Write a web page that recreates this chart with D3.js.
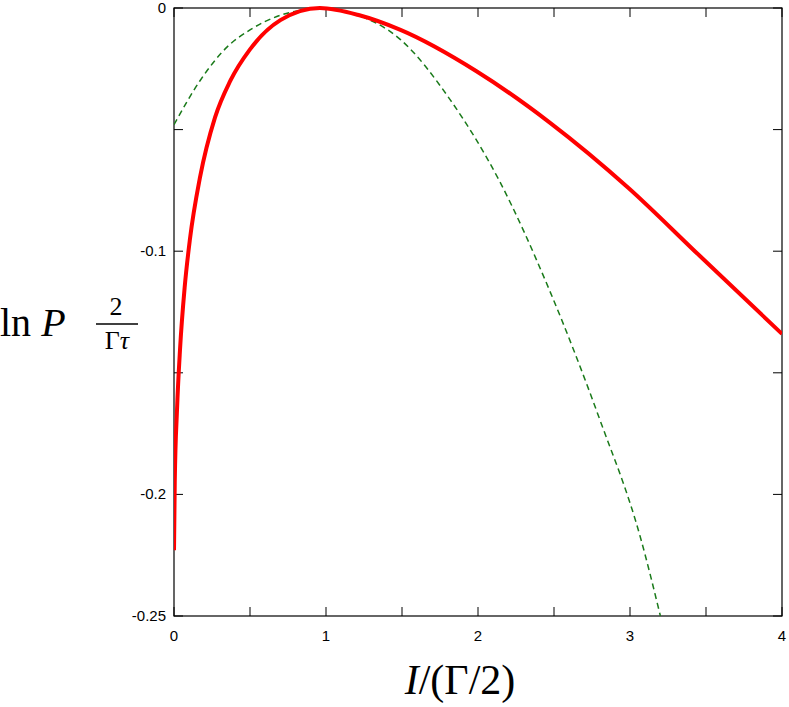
<!DOCTYPE html><html><head><script src="https://cdn.jsdelivr.net/npm/d3@7"></script>
<style>body{margin:0;background:#fff}</style></head><body><svg id="c" width="789" height="707"></svg>
<script>
const xTicks=[0,1,2,3,4];
const yTicks=[0,-0.1,-0.2,-0.25];
const yTickLabels=["0","-0.1","-0.2","-0.25"];
const redI=[0,0.005,0.02,0.04,0.07,0.105,0.17,0.27,0.37,0.5,0.7,0.96,1.22,1.49,1.99,2.47,2.99,3.46,4];
const redV=[-0.223,-0.195,-0.165,-0.14,-0.115,-0.095,-0.07,-0.045,-0.03,-0.017,-0.005,0,-0.003,-0.009,-0.026,-0.047,-0.074,-0.102,-0.134];
const greenI=[0,0.17,0.35,0.5,0.7,0.83,0.96,1.16,1.49,1.82,2.14,2.47,2.8,3.07,3.2];
const greenV=[-0.048,-0.03,-0.016,-0.009,-0.003,-0.001,0,-0.002,-0.013,-0.038,-0.071,-0.116,-0.169,-0.218,-0.25];
const svg=d3.select("#c");
const L=174,R=782,T=8,B=616;
const x=d3.scaleLinear().domain([0,4]).range([L,R]);
const y=d3.scaleLinear().domain([-0.25,0]).range([B,T]);
const g=svg.append("g");
g.append("rect").attr("x",L).attr("y",T).attr("width",R-L).attr("height",B-T).attr("fill","none").attr("stroke","#000").attr("stroke-width",1.2);
const minorX=d3.range(0,4.01,0.5), minorY=[0,-0.05,-0.1,-0.15,-0.2,-0.25];
minorX.forEach(v=>{g.append("line").attr("x1",x(v)).attr("x2",x(v)).attr("y1",B).attr("y2",B-9).attr("stroke","#000");
 g.append("line").attr("x1",x(v)).attr("x2",x(v)).attr("y1",T).attr("y2",T+9).attr("stroke","#000");});
minorY.forEach(v=>{g.append("line").attr("x1",L).attr("x2",L+9).attr("y1",y(v)).attr("y2",y(v)).attr("stroke","#000");
 g.append("line").attr("x1",R).attr("x2",R-9).attr("y1",y(v)).attr("y2",y(v)).attr("stroke","#000");});
xTicks.forEach(v=>g.append("text").attr("x",x(v)).attr("y",B+25).attr("text-anchor","middle").attr("font-family","Liberation Sans, Arial").attr("font-size",15).text(v));
yTicks.forEach((v,i)=>g.append("text").attr("x",L-8).attr("y",y(v)+5).attr("text-anchor","end").attr("font-family","Liberation Sans, Arial").attr("font-size",15).text(yTickLabels[i]));
svg.append("clipPath").attr("id","cp").append("rect").attr("x",L).attr("y",T-5).attr("width",R-L).attr("height",B-T+5);
const line=d3.line().x(d=>x(d[0])).y(d=>y(d[1])).curve(d3.curveMonotoneX);
svg.append("path").attr("d",line(greenI.map((v,i)=>[v,greenV[i]]))).attr("fill","none").attr("stroke","#1a7a1a").attr("stroke-width",1.5).attr("stroke-dasharray","6,4").attr("clip-path","url(#cp)");
svg.append("path").attr("d",line(redI.map((v,i)=>[v,redV[i]]))).attr("fill","none").attr("stroke","#ff0000").attr("stroke-width",4).attr("clip-path","url(#cp)");
const sf="Liberation Serif, DejaVu Serif, serif";
const xl=svg.append("text").attr("x",460).attr("y",694).attr("text-anchor","middle").attr("font-family",sf).attr("font-size",42);
xl.append("tspan").attr("font-style","italic").text("I");xl.append("tspan").text("/(Γ/2)");
const yl=svg.append("text").attr("x",0).attr("y",336).attr("font-family",sf).attr("font-size",40);
yl.append("tspan").text("ln ");yl.append("tspan").attr("font-style","italic").text("P");
svg.append("text").attr("x",116).attr("y",315).attr("text-anchor","middle").attr("font-family",sf).attr("font-size",26).text("2");
svg.append("line").attr("x1",96).attr("x2",138).attr("y1",324).attr("y2",324).attr("stroke","#000").attr("stroke-width",1.3);
const d=svg.append("text").attr("x",117).attr("y",349).attr("text-anchor","middle").attr("font-family",sf).attr("font-size",26);
d.append("tspan").text("Γ");d.append("tspan").attr("font-style","italic").text("τ");
</script></body></html>
